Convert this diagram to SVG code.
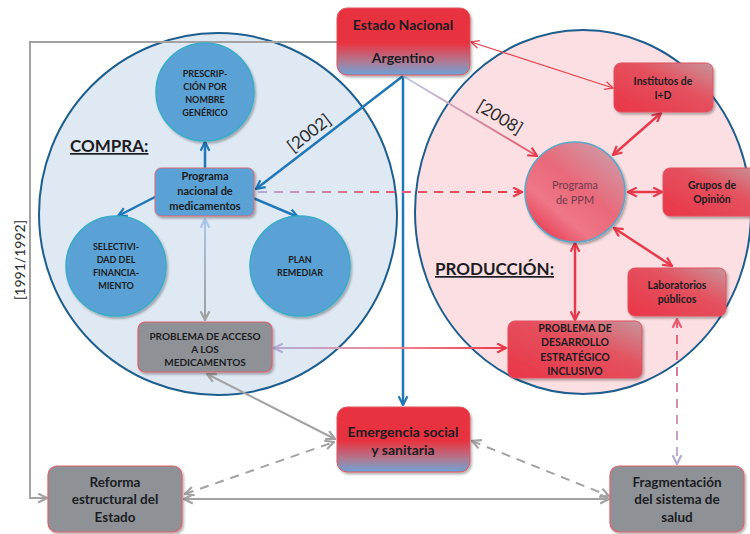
<svg xmlns="http://www.w3.org/2000/svg" width="750" height="534" viewBox="0 0 750 534">
<style>
.t{font-family:Lato,"Open Sans","Liberation Sans",sans-serif;fill:#1c1c22;text-anchor:middle;font-weight:bold}
.c9{font-size:9px}
.b10{font-size:10px}
.b105{font-size:10.5px}
.b11{font-size:11px}
.b135{font-size:13.5px}
.b14{font-size:14px}
.big{font-size:17px;text-anchor:start;text-decoration:underline}
.yr{font-family:Lato,"Open Sans","Liberation Sans",sans-serif;fill:#2a2a2a;font-weight:normal;text-anchor:middle}
.blue{stroke:#1f77b8;stroke-width:2.5;fill:none}
.red{stroke:#e8394a;stroke-width:2.5;fill:none}
.gray{stroke:#a2a2a2;stroke-width:2;fill:none}
.dash{stroke-dasharray:9 7}
.bluecirc{fill:#5aa2d5;stroke:#39abc9;stroke-width:1.5}
.redbox{fill:url(#gRedBox);stroke:#e0505e;stroke-width:1}
.graybox{fill:#8e9297;stroke:#e0606c;stroke-width:1.2}
</style>
<defs>
<filter id="sh" x="-10%" y="-10%" width="125%" height="130%"><feDropShadow dx="1.5" dy="2" stdDeviation="1.2" flood-color="#000" flood-opacity="0.3"/></filter>
<linearGradient id="gEstado" x1="0" y1="0" x2="0" y2="1">
<stop offset="0" stop-color="#e9333f"/><stop offset="0.52" stop-color="#e9333f"/><stop offset="0.8" stop-color="#b07a93"/><stop offset="1" stop-color="#6aa3d8"/>
</linearGradient>
<linearGradient id="gRedBox" x1="1" y1="0" x2="0" y2="1">
<stop offset="0" stop-color="#c6959c"/><stop offset="0.4" stop-color="#e4525f"/><stop offset="1" stop-color="#ea3547"/>
</linearGradient>
<linearGradient id="gPPM" x1="0.9" y1="0.1" x2="0.2" y2="0.95">
<stop offset="0" stop-color="#cf9aa6"/><stop offset="0.45" stop-color="#e9697a"/><stop offset="0.75" stop-color="#ee7686"/><stop offset="1" stop-color="#e94057"/>
</linearGradient>
<linearGradient id="g2008" gradientUnits="userSpaceOnUse" x1="403" y1="76" x2="538" y2="156">
<stop offset="0" stop-color="#b9cde9"/><stop offset="1" stop-color="#e9556a"/>
</linearGradient>
<linearGradient id="gVert" gradientUnits="userSpaceOnUse" x1="205" y1="218" x2="205" y2="321">
<stop offset="0" stop-color="#aac6e6"/><stop offset="1" stop-color="#9c9c9c"/>
</linearGradient>
<linearGradient id="gHor" gradientUnits="userSpaceOnUse" x1="273" y1="348" x2="507" y2="348">
<stop offset="0" stop-color="#b3abd6"/><stop offset="0.5" stop-color="#ef8a99"/><stop offset="1" stop-color="#e8394a"/>
</linearGradient>
<linearGradient id="gDash" gradientUnits="userSpaceOnUse" x1="256" y1="192" x2="522" y2="192">
<stop offset="0" stop-color="#b3abd6"/><stop offset="0.45" stop-color="#e8607a"/><stop offset="1" stop-color="#e8394a"/>
</linearGradient>
<linearGradient id="gLab" gradientUnits="userSpaceOnUse" x1="677" y1="318" x2="677" y2="464">
<stop offset="0" stop-color="#ec5a70"/><stop offset="1" stop-color="#bdb3dc"/>
</linearGradient>
<marker id="mB" viewBox="0 0 10 10" refX="9" refY="5" markerWidth="11" markerHeight="11" markerUnits="userSpaceOnUse" orient="auto-start-reverse"><path d="M1,1 L9,5 L1,9" fill="none" stroke="#1f77b8" stroke-width="2"/></marker>
<marker id="mR" viewBox="0 0 10 10" refX="9" refY="5" markerWidth="11" markerHeight="11" markerUnits="userSpaceOnUse" orient="auto-start-reverse"><path d="M1,1 L9,5 L1,9" fill="none" stroke="#e8394a" stroke-width="2"/></marker>
<marker id="mRt" viewBox="0 0 10 10" refX="9" refY="5" markerWidth="10" markerHeight="10" markerUnits="userSpaceOnUse" orient="auto-start-reverse"><path d="M1,1 L9,5 L1,9" fill="none" stroke="#e8404c" stroke-width="1.3"/></marker>
<marker id="mG" viewBox="0 0 10 10" refX="9" refY="5" markerWidth="11" markerHeight="11" markerUnits="userSpaceOnUse" orient="auto-start-reverse"><path d="M1,1 L9,5 L1,9" fill="none" stroke="#a2a2a2" stroke-width="2"/></marker>
<marker id="mLB" viewBox="0 0 10 10" refX="9" refY="5" markerWidth="11" markerHeight="11" markerUnits="userSpaceOnUse" orient="auto-start-reverse"><path d="M1,1 L9,5 L1,9" fill="none" stroke="#aac6e6" stroke-width="2"/></marker>
<marker id="mLav" viewBox="0 0 10 10" refX="9" refY="5" markerWidth="11" markerHeight="11" markerUnits="userSpaceOnUse" orient="auto-start-reverse"><path d="M1,1 L9,5 L1,9" fill="none" stroke="#b3abd6" stroke-width="2"/></marker>
<marker id="mP" viewBox="0 0 10 10" refX="9" refY="5" markerWidth="11" markerHeight="11" markerUnits="userSpaceOnUse" orient="auto-start-reverse"><path d="M1,1 L9,5 L1,9" fill="none" stroke="#ec5a70" stroke-width="2"/></marker>
</defs>

<g id="compra-area">
<ellipse cx="218" cy="214" rx="179" ry="181" fill="#dfe9f4" stroke="#1d5e8e" stroke-width="2"/>
<text class="t big" x="70" y="152">COMPRA:</text>
</g>
<g id="produccion-area">
<ellipse cx="583" cy="212" rx="168" ry="182" fill="#fbdfe2" stroke="#1d5e8e" stroke-width="2"/>
<text class="t big" x="435" y="275">PRODUCCIÓN:</text>
</g>

<g id="connectors">
<polyline class="gray" points="337,42 30,42 30,498 47,498" marker-end="url(#mG)"/>
<text class="yr" font-size="14" transform="translate(25,260) rotate(-90)">[1991/1992]</text>
<line class="blue" x1="403" y1="76" x2="403" y2="405" marker-end="url(#mB)"/>
<line class="blue" x1="403" y1="76" x2="256" y2="189" marker-end="url(#mB)"/>
<text class="yr" font-size="17" transform="translate(309,133) rotate(-38)" y="6">[2002]</text>
<line x1="403" y1="76" x2="537" y2="156" stroke="url(#g2008)" stroke-width="2" marker-end="url(#mR)"/>
<text class="yr" font-size="17" transform="translate(500,117) rotate(31)" y="6">[2008]</text>
<line x1="471" y1="42" x2="613" y2="88" stroke="#e8404c" stroke-width="1.2" marker-start="url(#mRt)" marker-end="url(#mRt)"/>
<line class="blue" x1="205" y1="168" x2="205" y2="142" marker-end="url(#mB)"/>
<line class="blue" x1="157" y1="196" x2="118" y2="216" marker-end="url(#mB)"/>
<line class="blue" x1="253" y1="198" x2="298" y2="217" marker-end="url(#mB)"/>
<line x1="205" y1="219" x2="205" y2="320" stroke="url(#gVert)" stroke-width="2" marker-start="url(#mLB)" marker-end="url(#mG)"/>
<line class="dash" x1="258" y1="192" x2="522" y2="192" stroke="url(#gDash)" stroke-width="2" marker-end="url(#mR)"/>
<line x1="274" y1="348" x2="506" y2="348" stroke="url(#gHor)" stroke-width="2" marker-start="url(#mLav)" marker-end="url(#mR)"/>
<line class="red" x1="613" y1="155" x2="661" y2="113" marker-start="url(#mR)" marker-end="url(#mR)"/>
<line class="red" x1="628" y1="192" x2="662" y2="192" marker-start="url(#mR)" marker-end="url(#mR)"/>
<line class="red" x1="614" y1="228" x2="672" y2="266" marker-start="url(#mR)" marker-end="url(#mR)"/>
<line class="red" x1="575" y1="243" x2="575" y2="320" marker-start="url(#mR)" marker-end="url(#mR)"/>
<line class="dash" x1="677" y1="319" x2="677" y2="464" stroke="url(#gLab)" stroke-width="2" marker-start="url(#mP)" marker-end="url(#mLav)"/>
<line class="gray" x1="207" y1="374" x2="335" y2="439" marker-start="url(#mG)" marker-end="url(#mG)"/>
<line class="gray dash" x1="185" y1="494" x2="334" y2="442" stroke-width="2.5" marker-start="url(#mG)" marker-end="url(#mG)"/>
<line class="gray dash" x1="472" y1="441" x2="609" y2="496" stroke-width="2.5" marker-start="url(#mG)" marker-end="url(#mG)"/>
<line class="gray" x1="184" y1="499" x2="609" y2="499" marker-start="url(#mG)" marker-end="url(#mG)"/>
</g>

<g id="estado">
<rect x="337" y="8" width="133" height="67" rx="10" fill="url(#gEstado)" stroke="#e05560" stroke-width="1" filter="url(#sh)"/>
<text class="t b14" x="403" y="30">Estado Nacional</text>
<text class="t b14" x="403" y="63">Argentino</text>
</g>
<g id="prescripcion">
<circle cx="205" cy="92" r="49" class="bluecirc" filter="url(#sh)"/>
<text class="t c9" x="205" y="77">PRESCRIP-</text>
<text class="t c9" x="205" y="90">CIÓN POR</text>
<text class="t c9" x="205" y="103">NOMBRE</text>
<text class="t c9" x="205" y="116">GENÉRICO</text>
</g>
<g id="programa-nacional">
<rect x="155" y="168" width="99" height="48" rx="6" fill="#5aa2d5" stroke="#d86a78" stroke-width="1" filter="url(#sh)"/>
<text class="t b11" x="205" y="180">Programa</text>
<text class="t b11" x="205" y="195">nacional de</text>
<text class="t b11" x="205" y="210">medicamentos</text>
</g>
<g id="selectividad">
<circle cx="116" cy="266" r="50" class="bluecirc" filter="url(#sh)"/>
<text class="t c9" x="116" y="250">SELECTIVI-</text>
<text class="t c9" x="116" y="263">DAD DEL</text>
<text class="t c9" x="116" y="276">FINANCIA-</text>
<text class="t c9" x="116" y="289">MIENTO</text>
</g>
<g id="plan-remediar">
<circle cx="300" cy="266" r="50" class="bluecirc" filter="url(#sh)"/>
<text class="t c9" x="300" y="263">PLAN</text>
<text class="t c9" x="300" y="276">REMEDIAR</text>
</g>
<g id="problema-acceso">
<rect x="138" y="322" width="134" height="50" rx="7" class="graybox" filter="url(#sh)"/>
<text class="t b10" x="205" y="340">PROBLEMA DE ACCESO</text>
<text class="t b10" x="205" y="353">A LOS</text>
<text class="t b10" x="205" y="366">MEDICAMENTOS</text>
</g>
<g id="institutos">
<rect x="614" y="63" width="99" height="49" rx="7" class="redbox" filter="url(#sh)"/>
<text class="t b105" x="663" y="85">Institutos de</text>
<text class="t b105" x="663" y="99">I+D</text>
</g>
<g id="programa-ppm">
<circle cx="575" cy="192" r="50" fill="url(#gPPM)" stroke="#5aa8c8" stroke-width="1.5" filter="url(#sh)"/>
<text class="t b11" x="575" y="189" style="font-weight:normal;fill:#6e3c4c">Programa</text>
<text class="t b11" x="575" y="204" style="font-weight:normal;fill:#6e3c4c">de PPM</text>
</g>
<g id="grupos">
<rect x="663" y="168" width="98" height="48" rx="7" class="redbox" filter="url(#sh)"/>
<text class="t b105" x="712" y="189">Grupos de</text>
<text class="t b105" x="712" y="203">Opinión</text>
</g>
<g id="laboratorios">
<rect x="628" y="268" width="98" height="48" rx="7" class="redbox" filter="url(#sh)"/>
<text class="t b105" x="677" y="289">Laboratorios</text>
<text class="t b105" x="677" y="303">públicos</text>
</g>
<g id="problema-desarrollo">
<rect x="508" y="321" width="134" height="57" rx="7" class="redbox" filter="url(#sh)"/>
<text class="t b105" x="575" y="332">PROBLEMA DE</text>
<text class="t b105" x="575" y="346">DESARROLLO</text>
<text class="t b105" x="575" y="361">ESTRATÉGICO</text>
<text class="t b105" x="575" y="375">INCLUSIVO</text>
</g>
<g id="emergencia">
<rect x="337" y="407" width="133" height="65" rx="10" fill="url(#gEstado)" stroke="#e05560" stroke-width="1" filter="url(#sh)"/>
<text class="t b14" x="403" y="437">Emergencia social</text>
<text class="t b14" x="403" y="455">y sanitaria</text>
</g>
<g id="reforma">
<rect x="48" y="466" width="134" height="66" rx="9" class="graybox" filter="url(#sh)"/>
<text class="t b135" x="115" y="487">Reforma</text>
<text class="t b135" x="115" y="504">estructural del</text>
<text class="t b135" x="115" y="522">Estado</text>
</g>
<g id="fragmentacion">
<rect x="610" y="466" width="134" height="66" rx="9" class="graybox" filter="url(#sh)"/>
<text class="t b135" x="677" y="487">Fragmentación</text>
<text class="t b135" x="677" y="504">del sistema de</text>
<text class="t b135" x="677" y="522">salud</text>
</g>
</svg>
